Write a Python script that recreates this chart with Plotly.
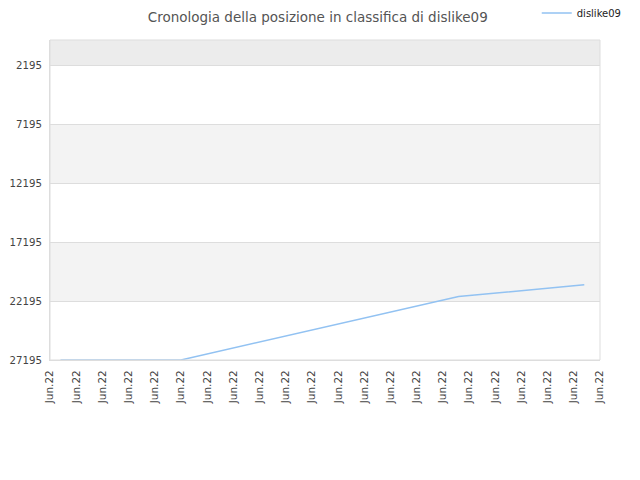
import plotly.graph_objects as go

# ranking history (lower is better, axis reversed)
x_pos = [0.4, 5.0, 15.6, 20.4]
rank = [27195, 27195, 21800, 20800]
tick_pos = list(range(22))
tick_text = ["Jun.22"] * 22
y_ticks = [2195, 7195, 12195, 17195, 22195, 27195]
y_text = [str(v) for v in y_ticks]
series_name = "dislike09"

fig = go.Figure()
fig.add_trace(go.Scatter(
    x=x_pos, y=rank, mode="lines", name=series_name,
    line=dict(color="#92c2f2", width=1.5),
))

# alternating background bands
bands = [(0, 2195, "#ececec"), (7195, 12195, "#f3f3f3"), (17195, 22195, "#f3f3f3")]
for y0, y1, col in bands:
    fig.add_shape(type="rect", xref="paper", yref="y", x0=0, x1=1, y0=y0, y1=y1,
                  fillcolor=col, line_width=0, layer="below")
fig.add_shape(type="rect", xref="paper", yref="paper", x0=0, x1=1, y0=0, y1=1,
              line=dict(color="#dddddd", width=1))

# page body adds ~8px offset, margins compensate
fig.update_layout(
    width=640, height=480,
    margin=dict(l=42, r=48, t=32, b=128, autoexpand=False),
    paper_bgcolor="white", plot_bgcolor="white",
    font=dict(family="DejaVu Sans", size=10, color="#444"),
    title=dict(text="Cronologia della posizione in classifica di dislike09",
               x=0.484, xanchor="center", y=0.98, yanchor="middle",
               font=dict(size=13.5, color="#555")),
    showlegend=True,
    legend=dict(x=0.885, xanchor="left", y=1.084, yanchor="middle",
                font=dict(size=10, color="#222"), itemwidth=30,
                bgcolor="rgba(0,0,0,0)"),
    xaxis=dict(range=[0, 21], tickvals=tick_pos, ticktext=tick_text,
               tickangle=-90, showgrid=False, zeroline=False, automargin=False,
               showline=True, linecolor="#dddddd", ticks="", ticklabelstandoff=5,
               tickfont=dict(size=10.5, color="#444")),
    yaxis=dict(range=[27195, 0], tickvals=y_ticks, ticktext=y_text, showgrid=True,
               gridcolor="#dddddd", zeroline=False, showline=True, automargin=False,
               linecolor="#dddddd", ticks="", ticklabelstandoff=5,
               tickfont=dict(size=10.2, color="#444")),
)

fig.write_html("out.html")
